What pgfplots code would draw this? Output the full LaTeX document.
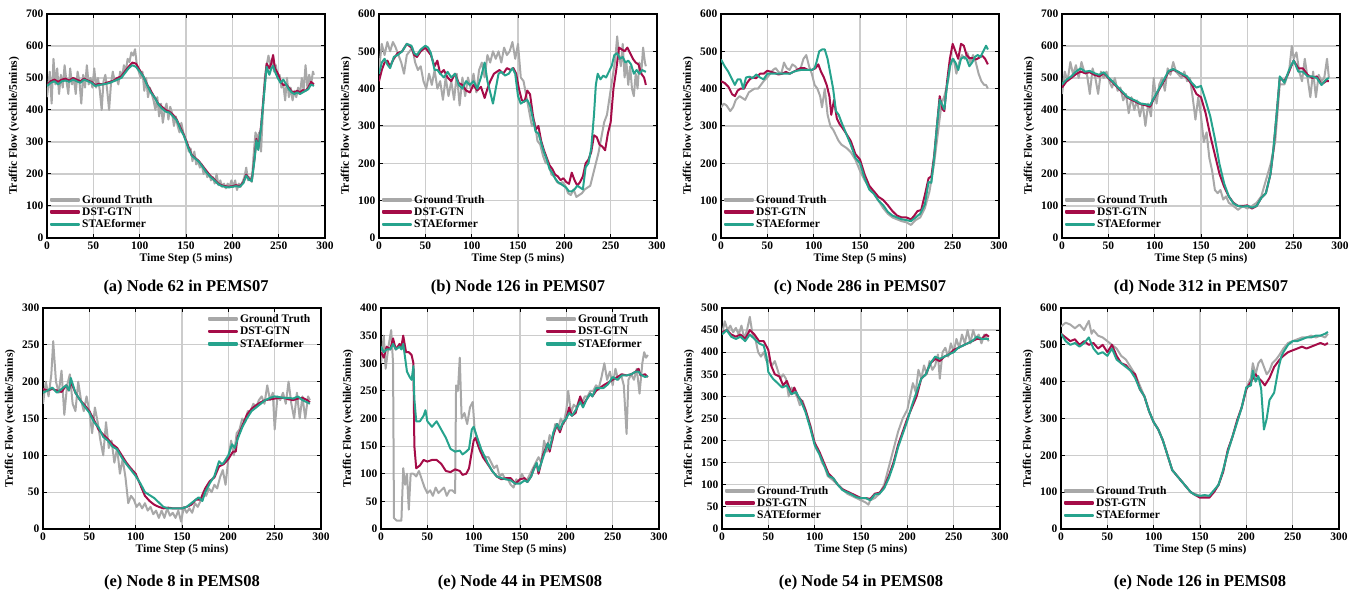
\documentclass[border=0pt]{standalone}
\usepackage{fontspec}
\setmainfont{Liberation Serif}
\usepackage{pgfplots}
\pgfplotsset{compat=1.18}

\definecolor{gtgray}{RGB}{168,168,168}
\definecolor{dstred}{RGB}{165,12,72}
\definecolor{staeteal}{RGB}{38,163,141}

\pgfplotsset{
  panel/.style={
    scale only axis, width=278pt, anchor=south west,
    xmin=0, xmax=300, ymin=0, xtick={0,50,...,300},
    grid=major, major grid style={line width=1.2pt, color=black!20},
    axis line style={line width=1.5pt},
    tick align=inside, major tick length=4pt,
    tick style={black, line width=1pt},
    /pgf/number format/assume math mode=true,
    tick label style={font=\fontsize{11.5}{13}\selectfont\bfseries},
    label style={font=\fontsize{11.5}{13}\selectfont\bfseries},
    xlabel={Time Step (5 mins)},
    ylabel={Traffic Flow (vechile/5mins)},
    xlabel style={yshift=3pt},
    title style={at={(0.5,0)}, anchor=base, yshift=-60pt,
      font=\fontsize{16.5}{19}\selectfont\bfseries},
    legend style={draw=none, fill=none,
      font=\fontsize{11.5}{13}\selectfont\bfseries,
      at={(0.0,0.02)}, anchor=south west, row sep=-1pt},
    legend cell align=left,
    legend image code/.code={\fill[##1] (0pt,-0.8pt) rectangle (28pt,0.8pt);},
    every axis plot/.append style={line width=2pt, line join=round, no markers},
  },
  toprow/.style={panel, height=224pt},
  botrow/.style={panel, height=221pt, title style={yshift=-4pt}},
  gt/.style={gtgray},
  dst/.style={dstred},
  sta/.style={staeteal},
}

\begin{document}
\begin{tikzpicture}
\useasboundingbox (0,0) rectangle (1361pt,593pt);

% (a)
\begin{axis}[toprow, at={(47pt,355pt)}, ymax=700, ytick={0,100,...,700},
  title={(a) Node 62 in PEMS07}]
\addplot[gt] coordinates {(0,440)(3,520)(5,420)(7,560)(9,480)(11,530)(13,450)(15,510)(17,470)(19,540)(21,490)(23,450)(25,530)(27,480)(29,500)(31,450)(33,520)(35,490)(37,420)(39,510)(41,470)(43,540)(45,480)(47,500)(49,470)(51,530)(53,470)(55,500)(57,460)(59,400)(61,490)(63,510)(65,460)(67,400)(69,480)(71,520)(73,490)(75,500)(77,480)(79,520)(81,500)(83,540)(85,520)(87,560)(89,550)(91,580)(93,570)(95,590)(97,540)(99,520)(101,500)(103,520)(105,460)(107,500)(109,440)(111,470)(113,450)(115,430)(117,400)(119,440)(121,380)(123,420)(125,360)(127,400)(129,420)(131,370)(133,410)(135,390)(137,350)(139,380)(141,350)(143,330)(145,360)(147,330)(149,310)(151,300)(153,270)(155,280)(157,240)(159,270)(161,230)(163,240)(165,220)(167,230)(169,200)(171,210)(173,190)(175,200)(177,180)(179,190)(181,170)(183,200)(185,165)(187,180)(189,160)(191,170)(193,155)(195,170)(197,160)(199,180)(201,160)(203,180)(205,150)(207,170)(209,160)(211,175)(213,190)(215,220)(217,180)(219,190)(221,175)(223,260)(225,330)(227,310)(229,330)(231,270)(233,400)(235,500)(237,540)(239,570)(241,540)(243,560)(245,520)(247,540)(249,500)(251,510)(253,470)(255,480)(257,430)(259,500)(261,440)(263,470)(265,430)(267,460)(269,440)(271,470)(273,450)(275,500)(277,460)(279,540)(281,470)(283,510)(285,480)(287,520)(288,510)};
\addplot[dst] coordinates {(0,478)(4,490)(8,495)(12,488)(16,495)(20,498)(24,492)(28,500)(32,495)(36,490)(40,498)(44,492)(48,488)(52,478)(56,482)(60,480)(64,485)(68,488)(72,492)(76,500)(80,505)(84,520)(88,535)(92,548)(96,545)(100,525)(104,505)(108,480)(112,460)(116,440)(120,420)(124,410)(128,400)(132,395)(136,385)(140,370)(144,345)(148,320)(152,290)(156,260)(160,250)(164,240)(168,225)(172,210)(176,195)(180,185)(184,172)(188,165)(192,162)(196,160)(200,162)(204,165)(208,162)(212,175)(215,198)(218,185)(221,180)(224,250)(226,310)(228,280)(231,350)(234,450)(237,545)(240,530)(242,545)(244,572)(246,530)(249,515)(252,490)(255,478)(258,480)(261,470)(264,458)(267,455)(270,460)(273,455)(276,462)(279,460)(282,470)(285,488)(288,480)};
\addplot[sta] coordinates {(0,475)(4,485)(8,490)(12,480)(16,490)(20,492)(24,488)(28,495)(32,490)(36,485)(40,495)(44,490)(48,485)(52,475)(56,478)(60,480)(64,482)(68,485)(72,490)(76,495)(80,500)(84,515)(88,530)(92,540)(96,535)(100,520)(104,505)(108,478)(112,455)(116,440)(120,418)(124,405)(128,395)(132,392)(136,380)(140,368)(144,340)(148,318)(152,285)(156,258)(160,248)(164,238)(168,222)(172,205)(176,192)(180,182)(184,170)(188,163)(192,160)(196,158)(200,160)(204,162)(208,160)(212,172)(215,195)(218,182)(221,178)(224,245)(226,305)(228,275)(231,345)(234,440)(237,535)(240,510)(242,530)(244,538)(246,520)(249,500)(252,485)(255,495)(258,480)(261,465)(264,455)(267,450)(270,455)(273,450)(276,455)(279,460)(282,465)(285,480)(288,475)};
\legend{Ground Truth, DST-GTN, STAEformer}
\end{axis}

% (b)
\begin{axis}[toprow, at={(379pt,355pt)}, ymax=600, ytick={0,100,...,600},
  title={(b) Node 126 in PEMS07}]
\addplot[gt] coordinates {(0,450)(3,520)(6,490)(9,525)(12,500)(15,525)(18,510)(21,490)(24,470)(27,440)(30,490)(33,500)(36,510)(39,470)(42,450)(45,460)(48,420)(51,400)(54,440)(57,410)(60,450)(63,400)(66,420)(69,370)(72,430)(75,380)(78,420)(81,370)(84,440)(87,355)(90,430)(93,380)(96,430)(99,400)(102,440)(105,390)(108,450)(111,470)(114,430)(117,490)(120,470)(123,500)(126,480)(129,500)(132,470)(135,510)(138,490)(141,500)(144,525)(147,480)(150,520)(153,430)(156,420)(159,380)(162,340)(165,300)(168,310)(171,260)(174,250)(177,220)(180,200)(183,200)(186,170)(189,165)(192,150)(195,145)(198,150)(201,140)(204,120)(207,115)(210,130)(213,110)(216,115)(219,120)(222,130)(225,135)(228,140)(231,170)(234,200)(237,230)(240,270)(243,310)(246,330)(249,380)(252,430)(255,480)(257,540)(259,490)(261,460)(263,520)(265,430)(267,470)(269,410)(271,460)(273,400)(275,380)(277,440)(279,400)(281,470)(283,440)(285,510)(287,470)(288,460)};
\addplot[dst] coordinates {(0,420)(3,450)(6,470)(9,475)(12,460)(16,480)(20,495)(25,500)(30,520)(35,510)(38,490)(41,485)(45,500)(50,510)(53,500)(56,490)(60,460)(63,475)(66,440)(70,450)(74,430)(78,420)(82,440)(86,415)(90,410)(94,395)(98,390)(102,410)(106,395)(110,405)(114,375)(117,400)(120,420)(124,440)(127,445)(130,450)(134,440)(138,455)(142,450)(145,455)(148,440)(151,400)(154,370)(157,365)(160,395)(163,385)(166,330)(169,290)(172,300)(175,260)(178,235)(181,215)(184,195)(187,185)(190,170)(193,165)(196,155)(199,160)(202,150)(205,145)(208,175)(211,155)(214,140)(217,150)(220,165)(223,200)(226,210)(229,230)(232,275)(235,270)(238,250)(241,245)(244,235)(247,280)(250,310)(253,400)(256,450)(259,510)(262,505)(265,500)(268,510)(271,495)(274,480)(277,470)(280,465)(283,440)(286,430)(288,410)};
\addplot[sta] coordinates {(0,440)(3,470)(6,480)(9,465)(12,455)(16,485)(20,490)(25,500)(30,520)(35,515)(38,495)(41,490)(45,505)(50,515)(53,510)(56,495)(60,450)(63,450)(66,440)(70,430)(74,445)(78,430)(82,440)(86,410)(90,400)(94,420)(98,410)(102,420)(106,400)(110,430)(114,470)(117,420)(120,390)(123,360)(126,400)(129,440)(132,445)(136,435)(140,440)(144,455)(147,440)(150,380)(153,360)(156,365)(160,370)(163,355)(166,320)(169,285)(172,280)(175,255)(178,230)(181,210)(184,185)(187,175)(190,160)(193,150)(196,145)(199,140)(202,135)(205,125)(208,125)(211,130)(214,140)(217,135)(220,130)(223,190)(226,200)(229,240)(232,330)(234,410)(236,440)(239,425)(242,435)(245,430)(248,445)(251,460)(254,490)(257,495)(260,480)(263,485)(266,470)(269,475)(272,465)(275,440)(278,450)(281,440)(284,450)(288,445)};
\legend{Ground Truth, DST-GTN, STAEformer}
\end{axis}

% (c)
\begin{axis}[toprow, at={(721pt,355pt)}, ymax=600, ytick={0,100,...,600},
  title={(c) Node 286 in PEMS07}]
\addplot[gt] coordinates {(0,350)(3,360)(6,355)(10,340)(13,350)(16,370)(20,380)(23,375)(26,370)(30,390)(33,395)(36,400)(40,400)(43,410)(46,420)(50,430)(53,440)(56,450)(59,455)(62,445)(65,440)(68,470)(71,455)(74,450)(77,465)(80,460)(83,450)(86,455)(89,480)(92,490)(95,460)(98,440)(101,410)(104,400)(107,380)(109,350)(112,400)(115,330)(118,300)(121,290)(124,275)(127,260)(130,250)(133,245)(136,240)(140,230)(145,210)(150,180)(155,155)(160,135)(165,120)(170,100)(175,80)(180,65)(185,55)(190,50)(195,45)(200,42)(205,35)(210,48)(215,55)(220,80)(225,125)(230,200)(235,300)(238,360)(241,380)(245,420)(248,470)(251,480)(254,440)(257,470)(260,490)(263,480)(266,495)(269,470)(272,490)(275,470)(278,440)(281,420)(284,410)(286,410)(288,400)};
\addplot[dst] coordinates {(0,420)(4,415)(8,405)(12,385)(15,380)(18,395)(21,400)(25,400)(28,415)(31,425)(34,430)(38,428)(42,440)(46,440)(50,448)(54,445)(58,442)(62,438)(66,440)(70,445)(74,440)(78,445)(82,450)(86,455)(90,455)(94,450)(98,450)(102,455)(105,465)(108,445)(111,430)(114,410)(117,380)(119,330)(122,370)(125,320)(128,305)(131,295)(135,280)(140,260)(145,225)(150,210)(155,170)(160,140)(165,125)(170,110)(175,102)(180,88)(185,72)(190,60)(195,55)(200,55)(205,50)(208,58)(212,72)(216,75)(220,115)(224,160)(227,165)(230,220)(233,300)(236,380)(239,345)(241,340)(244,420)(247,480)(250,520)(253,500)(256,480)(259,520)(262,515)(265,490)(268,482)(271,482)(275,478)(278,482)(282,488)(285,480)(288,465)};
\addplot[sta] coordinates {(0,478)(4,460)(8,445)(12,425)(15,410)(18,425)(21,425)(24,400)(27,430)(31,432)(34,428)(38,438)(42,430)(46,425)(50,440)(54,440)(58,440)(62,440)(66,440)(70,440)(74,440)(78,445)(82,448)(86,450)(90,450)(94,450)(98,450)(101,455)(103,470)(106,500)(109,505)(112,505)(115,480)(118,440)(121,400)(124,340)(127,330)(130,310)(135,280)(140,250)(145,215)(150,200)(155,160)(160,130)(165,118)(170,100)(175,88)(180,70)(185,60)(190,55)(195,50)(200,48)(205,45)(210,55)(215,65)(220,90)(224,150)(227,148)(230,215)(233,300)(236,370)(239,355)(241,345)(244,410)(247,460)(250,480)(253,470)(256,450)(259,480)(262,485)(265,480)(268,460)(271,470)(274,485)(277,490)(280,485)(283,500)(286,515)(288,505)};
\legend{Ground Truth, DST-GTN, STAEformer}
\end{axis}

% (d)
\begin{axis}[toprow, at={(1062pt,355pt)}, ymax=700, ytick={0,100,...,700},
  title={(d) Node 312 in PEMS07}]
\addplot[gt] coordinates {(0,450)(3,520)(6,490)(9,550)(12,510)(15,540)(18,500)(21,550)(24,520)(27,510)(30,450)(33,530)(36,500)(39,450)(42,520)(45,500)(48,520)(51,490)(54,470)(57,500)(60,460)(63,470)(66,430)(69,450)(72,390)(75,440)(78,400)(81,430)(84,380)(87,420)(90,350)(93,420)(96,380)(99,500)(102,420)(105,480)(108,500)(111,460)(114,530)(117,510)(120,550)(123,520)(126,510)(129,500)(132,520)(135,490)(138,500)(141,440)(144,370)(147,440)(150,380)(153,300)(156,330)(159,250)(162,210)(165,150)(168,140)(171,150)(174,120)(177,130)(180,110)(185,100)(190,88)(195,100)(200,92)(205,100)(210,110)(215,130)(220,180)(225,230)(230,300)(235,480)(240,480)(245,520)(248,600)(250,560)(253,580)(256,520)(259,490)(262,560)(265,500)(268,440)(271,520)(274,440)(277,510)(280,490)(283,500)(286,560)(288,500)};
\addplot[dst] coordinates {(0,470)(5,490)(10,500)(15,512)(20,520)(25,515)(30,518)(35,510)(40,505)(45,515)(50,500)(55,485)(60,470)(65,455)(70,440)(75,432)(80,425)(85,418)(90,415)(95,410)(100,440)(105,465)(110,490)(115,520)(120,525)(125,520)(130,510)(135,500)(140,480)(145,450)(150,440)(155,390)(160,320)(165,260)(170,200)(175,160)(180,130)(185,110)(190,100)(195,100)(200,102)(205,92)(210,100)(215,125)(220,140)(225,200)(228,270)(232,400)(235,500)(240,490)(245,520)(250,555)(255,530)(260,530)(265,510)(270,500)(275,505)(280,480)(285,490)(288,490)};
\addplot[sta] coordinates {(0,480)(5,495)(10,505)(15,520)(20,530)(25,520)(30,522)(35,515)(40,510)(45,518)(50,502)(55,488)(60,472)(65,458)(70,442)(75,435)(80,428)(85,420)(90,418)(95,415)(100,442)(105,468)(110,495)(115,522)(120,528)(125,520)(130,512)(135,505)(140,485)(145,470)(150,475)(155,430)(160,380)(165,310)(170,230)(175,170)(180,130)(185,108)(190,100)(195,98)(200,100)(205,95)(210,100)(215,125)(220,140)(225,200)(228,275)(232,400)(235,505)(240,485)(245,525)(250,555)(255,520)(260,520)(265,505)(270,505)(275,500)(280,478)(285,495)(288,500)};
\legend{Ground Truth, DST-GTN, STAEformer}
\end{axis}

% (e)
\begin{axis}[botrow, at={(43pt,64pt)}, ymax=300, ytick={0,50,...,300},
  title={(e) Node 8 in PEMS08},
  legend style={at={(0.98,0.99)}, anchor=north east}]
\addplot[gt] coordinates {(0,170)(3,200)(6,180)(9,210)(11,255)(14,200)(17,185)(20,215)(23,155)(26,195)(29,210)(32,170)(35,160)(38,200)(41,175)(44,160)(47,180)(50,160)(53,130)(56,165)(59,145)(62,120)(65,100)(68,145)(71,110)(74,120)(77,90)(80,110)(83,75)(86,95)(89,70)(92,35)(95,45)(98,40)(101,30)(104,35)(107,28)(110,35)(113,25)(116,30)(119,20)(122,25)(125,15)(128,25)(131,15)(134,28)(137,18)(140,22)(143,15)(146,25)(149,10)(152,30)(155,22)(158,28)(161,22)(164,35)(167,30)(170,38)(173,50)(176,45)(179,55)(182,50)(185,60)(188,55)(191,70)(194,80)(197,60)(200,95)(203,120)(206,100)(209,130)(212,135)(215,150)(218,145)(221,160)(224,160)(227,170)(230,165)(233,175)(236,180)(239,170)(242,195)(245,175)(248,185)(250,135)(253,180)(256,175)(259,185)(262,170)(265,200)(268,170)(271,150)(274,185)(277,150)(280,180)(283,150)(286,180)(288,175)};
\addplot[dst] coordinates {(0,190)(5,188)(10,190)(15,188)(20,186)(25,195)(28,188)(30,200)(35,185)(40,175)(45,168)(50,160)(55,148)(60,135)(65,128)(70,122)(75,115)(80,110)(85,100)(90,90)(95,82)(100,75)(105,60)(110,45)(115,38)(120,33)(125,30)(130,28)(135,29)(140,28)(145,28)(150,28)(155,30)(160,33)(165,40)(170,40)(175,55)(180,65)(185,70)(190,85)(195,88)(200,95)(205,105)(208,105)(210,125)(215,140)(220,155)(225,163)(230,168)(235,172)(240,175)(245,176)(250,177)(255,178)(260,178)(265,176)(270,175)(275,177)(280,178)(285,175)(288,172)};
\addplot[sta] coordinates {(0,185)(5,188)(10,192)(15,185)(20,190)(25,195)(28,188)(30,205)(35,185)(40,175)(45,166)(50,158)(55,145)(60,138)(65,125)(70,120)(75,112)(80,108)(85,97)(90,88)(95,80)(100,72)(105,62)(108,55)(110,50)(115,46)(120,42)(125,36)(130,30)(135,28)(140,28)(145,28)(150,28)(155,30)(160,35)(165,40)(168,43)(172,38)(175,50)(180,62)(185,72)(190,92)(193,88)(195,90)(200,100)(204,115)(207,110)(210,122)(215,138)(220,150)(225,160)(230,165)(235,170)(240,175)(245,178)(250,180)(255,179)(260,178)(265,178)(270,177)(275,180)(280,175)(285,172)(288,170)};
\legend{Ground Truth, DST-GTN, STAEformer}
\end{axis}

% (f)
\begin{axis}[botrow, at={(381pt,64pt)}, ymax=400, ytick={0,50,...,400},
  title={(e) Node 44 in PEMS08},
  legend style={at={(0.98,0.99)}, anchor=north east}]
\addplot[gt] coordinates {(0,300)(3,350)(5,290)(8,330)(11,360)(13,300)(14,20)(17,15)(20,15)(22,15)(24,110)(26,80)(28,100)(30,35)(32,100)(35,100)(38,95)(41,105)(44,90)(47,75)(50,65)(53,70)(56,60)(59,75)(62,65)(65,70)(68,75)(71,60)(74,70)(77,70)(80,65)(81,260)(83,250)(85,310)(87,200)(90,210)(93,190)(96,220)(99,230)(101,180)(104,160)(107,140)(110,135)(113,130)(116,130)(119,120)(122,110)(125,115)(128,95)(131,100)(134,90)(137,90)(140,80)(143,75)(146,90)(149,85)(152,100)(155,90)(158,90)(161,100)(164,110)(167,120)(170,130)(173,120)(176,160)(179,140)(182,170)(185,160)(188,190)(191,180)(194,200)(197,190)(200,215)(202,250)(205,210)(208,225)(211,220)(214,235)(217,230)(220,240)(223,240)(226,250)(229,250)(232,260)(235,255)(238,275)(241,300)(244,270)(247,285)(250,260)(253,290)(256,270)(259,280)(262,260)(265,172)(267,270)(270,280)(273,270)(276,290)(279,245)(282,300)(284,320)(286,310)(288,315)};
\addplot[dst] coordinates {(0,320)(3,310)(6,330)(10,325)(13,345)(16,325)(20,335)(22,330)(24,350)(27,320)(30,320)(33,315)(35,300)(36,150)(38,110)(42,115)(46,125)(50,122)(55,125)(60,125)(65,118)(70,105)(75,103)(80,108)(85,105)(88,98)(92,100)(95,110)(100,160)(102,165)(105,150)(110,130)(115,118)(120,105)(125,95)(130,90)(135,92)(140,92)(145,82)(150,90)(155,92)(158,85)(162,95)(165,110)(168,118)(170,100)(175,135)(180,155)(182,140)(186,170)(190,190)(193,175)(196,190)(200,200)(203,220)(206,205)(210,210)(215,240)(218,225)(222,235)(226,245)(228,240)(232,250)(236,255)(240,260)(245,265)(250,270)(255,275)(260,280)(265,278)(270,280)(275,285)(278,290)(280,278)(285,280)(288,275)};
\addplot[sta] coordinates {(0,330)(3,320)(6,325)(10,325)(13,335)(16,325)(20,330)(22,325)(24,335)(26,310)(28,285)(31,275)(33,270)(35,295)(36,235)(38,195)(42,195)(46,205)(48,215)(50,195)(55,185)(60,195)(65,180)(70,165)(75,145)(80,140)(85,142)(88,135)(92,140)(95,145)(98,180)(100,185)(103,170)(108,145)(115,120)(120,105)(125,95)(130,92)(135,90)(140,88)(145,82)(150,82)(155,88)(158,85)(162,95)(165,108)(168,120)(170,105)(175,130)(180,155)(182,145)(186,175)(190,190)(193,180)(196,192)(200,200)(203,210)(206,205)(210,215)(215,230)(218,220)(222,235)(226,245)(228,240)(232,255)(236,255)(240,255)(245,262)(250,275)(255,270)(260,278)(265,278)(270,280)(275,285)(278,285)(280,280)(285,275)(288,277)};
\legend{Ground Truth, DST-GTN, STAEformer}
\end{axis}

% (g)
\begin{axis}[botrow, at={(722pt,64pt)}, ymax=500, ytick={0,50,...,500},
  title={(e) Node 54 in PEMS08}]
\addplot[gt] coordinates {(0,440)(3,470)(6,450)(9,460)(12,445)(15,455)(18,440)(21,460)(24,430)(27,450)(30,480)(33,440)(36,430)(39,400)(42,390)(45,400)(48,380)(51,380)(54,370)(57,380)(60,360)(63,340)(66,350)(69,340)(72,300)(75,320)(78,310)(81,300)(84,280)(87,290)(90,270)(93,250)(96,230)(99,200)(102,180)(105,170)(108,150)(111,140)(114,120)(117,115)(120,110)(125,100)(130,90)(135,80)(140,75)(145,70)(150,65)(155,60)(158,55)(160,65)(165,70)(170,80)(175,100)(180,140)(185,180)(190,220)(195,250)(200,270)(203,300)(206,330)(209,310)(212,360)(215,340)(218,370)(221,350)(224,380)(227,360)(230,370)(233,395)(235,340)(238,400)(241,410)(244,390)(247,420)(250,400)(253,430)(256,410)(259,440)(262,420)(265,450)(268,420)(271,450)(274,430)(277,440)(280,420)(283,440)(286,430)(288,425)};
\addplot[dst] coordinates {(0,445)(5,450)(10,440)(15,435)(20,440)(25,430)(30,450)(35,440)(40,425)(45,425)(50,405)(53,370)(57,350)(62,345)(66,325)(70,335)(75,305)(78,320)(82,300)(86,290)(90,270)(95,235)(100,195)(105,175)(110,150)(115,125)(120,115)(125,100)(130,90)(135,85)(140,80)(145,75)(150,70)(155,70)(160,68)(165,80)(170,82)(175,95)(180,120)(185,150)(190,190)(195,220)(200,250)(205,275)(210,300)(215,340)(220,350)(225,375)(230,385)(235,380)(240,390)(245,395)(250,405)(255,410)(260,415)(265,420)(270,425)(275,430)(280,430)(285,440)(288,435)};
\addplot[sta] coordinates {(0,440)(5,450)(10,435)(15,430)(20,435)(25,425)(30,440)(35,430)(40,420)(45,415)(48,390)(50,355)(55,340)(60,330)(65,320)(70,325)(75,305)(80,310)(85,290)(90,265)(95,230)(100,190)(105,170)(110,145)(115,120)(120,115)(125,100)(130,88)(135,83)(140,78)(145,72)(150,70)(155,70)(160,65)(165,78)(170,80)(175,92)(180,115)(185,145)(190,185)(195,215)(200,245)(205,280)(210,310)(215,340)(220,350)(225,375)(230,390)(235,385)(240,390)(245,395)(250,400)(255,410)(260,415)(265,420)(270,425)(275,435)(280,430)(285,430)(288,430)};
\legend{Ground-Truth, DST-GTN, SATEformer}
\end{axis}

% (h)
\begin{axis}[botrow, at={(1061pt,64pt)}, ymax=600, ytick={0,100,...,600},
  title={(e) Node 126 in PEMS08}]
\addplot[gt] coordinates {(0,550)(5,560)(10,555)(15,545)(20,555)(25,540)(30,565)(33,530)(35,540)(40,525)(45,520)(50,510)(55,500)(60,490)(65,470)(70,460)(75,440)(80,420)(85,390)(90,360)(95,320)(100,290)(105,270)(110,240)(115,200)(120,160)(125,145)(130,130)(135,115)(140,100)(145,95)(150,90)(155,90)(160,90)(165,100)(170,120)(175,160)(180,210)(185,250)(190,290)(195,330)(200,380)(203,400)(205,410)(207,450)(210,420)(213,450)(216,460)(219,440)(222,420)(225,430)(228,450)(232,460)(235,470)(240,490)(245,505)(250,510)(255,515)(260,520)(265,520)(270,525)(275,520)(280,525)(285,520)(288,530)};
\addplot[dst] coordinates {(0,530)(5,520)(10,510)(15,515)(20,500)(25,510)(30,500)(35,505)(40,490)(45,500)(50,480)(55,500)(60,470)(65,450)(70,445)(75,430)(80,420)(85,380)(90,360)(95,320)(100,290)(105,270)(110,240)(115,200)(120,160)(125,145)(130,130)(135,115)(140,100)(145,92)(150,85)(155,85)(160,85)(165,100)(170,120)(175,155)(180,215)(185,250)(190,295)(195,330)(200,380)(205,400)(210,420)(213,410)(217,400)(220,390)(225,410)(230,440)(233,450)(236,460)(240,470)(245,480)(250,485)(255,490)(260,495)(265,490)(270,495)(275,500)(280,505)(285,500)(288,505)};
\addplot[sta] coordinates {(0,530)(5,510)(10,500)(15,505)(20,495)(25,505)(30,520)(35,490)(40,475)(45,480)(50,470)(55,490)(60,460)(65,450)(70,440)(75,430)(80,410)(85,380)(90,360)(95,320)(100,290)(105,270)(110,240)(115,200)(120,160)(125,145)(130,130)(135,115)(140,100)(145,92)(150,90)(155,92)(160,90)(165,105)(170,120)(175,160)(180,210)(185,250)(190,290)(195,330)(200,385)(205,390)(207,430)(210,400)(213,415)(216,380)(219,270)(222,300)(225,350)(230,370)(235,440)(238,470)(240,480)(245,500)(250,510)(255,510)(260,515)(265,520)(270,520)(275,525)(280,525)(285,530)(288,535)};
\legend{Ground Truth, DST-GTN, STAEformer}
\end{axis}
\end{tikzpicture}
\end{document}
